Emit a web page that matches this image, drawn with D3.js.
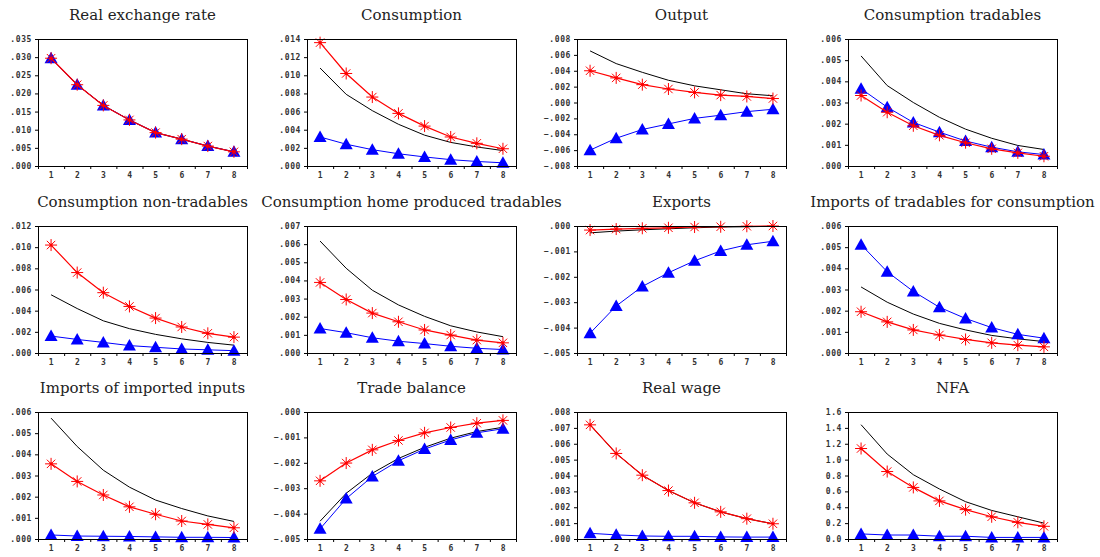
<!DOCTYPE html>
<html>
<head>
<meta charset="utf-8">
<script src="https://cdn.jsdelivr.net/npm/d3@7"></script>
<style>
  body { margin: 0; background: #fff; }
  svg { display: block; }
</style>
</head>
<body>
<div id="chart"></div>
<script>
// impulse responses, quarters 1..8
const periods = [1, 2, 3, 4, 5, 6, 7, 8]

const titles = [
  'Real exchange rate', 'Consumption', 'Output', 'Consumption tradables',
  'Consumption non-tradables', 'Consumption home produced tradables', 'Exports', 'Imports of tradables for consumption',
  'Imports of imported inputs', 'Trade balance', 'Real wage', 'NFA'
]

// y axis range and tick step per panel
const yMin = [0, 0, -0.008, 0, 0, 0, -0.005, 0, 0, -0.005, 0, 0]
const yMax = [0.035, 0.014, 0.008, 0.006, 0.012, 0.007, 0, 0.006, 0.006, 0, 0.008, 1.6]
const yStep = [0.005, 0.002, 0.002, 0.001, 0.002, 0.001, 0.001, 0.001, 0.001, 0.001, 0.001, 0.2]

// black line (no markers)
const blackSeries = [
  [0.0297, 0.0224, 0.0167, 0.0127, 0.0092, 0.0074, 0.0055, 0.0039],
  [0.0108, 0.0079, 0.0061, 0.0046, 0.0034, 0.0026, 0.0021, 0.0017],
  [0.0065, 0.0049, 0.0038, 0.0028, 0.0021, 0.0016, 0.0011, 0.00085],
  [0.0052, 0.0038, 0.0030, 0.0023, 0.00174, 0.00131, 0.00097, 0.00078],
  [0.0055, 0.0042, 0.00304, 0.0023, 0.00176, 0.00134, 0.0010, 0.00074],
  [0.00617, 0.00467, 0.00346, 0.00265, 0.00202, 0.0015, 0.00116, 0.0009],
  [-0.00027, -0.0002, -0.00015, -0.00011, -0.00007, -0.00004, -0.00003, -0.00001],
  [0.00312, 0.0024, 0.00184, 0.0014, 0.00109, 0.00083, 0.00067, 0.00054],
  [0.00571, 0.00437, 0.00325, 0.00245, 0.00184, 0.00144, 0.00109, 0.00083],
  [-0.0043, -0.0032, -0.00241, -0.00183, -0.00139, -0.00103, -0.00077, -0.0006],
  [0.00719, 0.00539, 0.00402, 0.00305, 0.00228, 0.00171, 0.00128, 0.00096],
  [1.44, 1.07, 0.81, 0.63, 0.47, 0.36, 0.28, 0.2]
]

// red line with asterisks
const redSeries = [
  [0.0297, 0.0224, 0.0167, 0.0127, 0.0092, 0.0074, 0.0055, 0.0039],
  [0.0136, 0.0102, 0.0076, 0.0058, 0.0044, 0.0032, 0.0025, 0.0019],
  [0.0040, 0.0031, 0.00225, 0.0017, 0.00127, 0.00093, 0.00076, 0.0005],
  [0.00333, 0.00254, 0.0019, 0.00145, 0.0011, 0.00081, 0.00062, 0.00046],
  [0.0102, 0.0076, 0.0057, 0.0044, 0.0033, 0.00246, 0.00186, 0.0015],
  [0.00389, 0.00295, 0.0022, 0.00172, 0.00127, 0.00099, 0.00071, 0.00056],
  [-0.00016, -0.00012, -0.00009, -0.00007, -0.00004, -0.00003, -0.00001, 0],
  [0.00195, 0.00147, 0.00109, 0.00085, 0.00064, 0.00048, 0.00037, 0.00029],
  [0.00355, 0.00272, 0.00208, 0.00152, 0.00117, 0.00085, 0.00069, 0.00053],
  [-0.00271, -0.00201, -0.00149, -0.00112, -0.00082, -0.00061, -0.00044, -0.00033],
  [0.00719, 0.00539, 0.00402, 0.00305, 0.00228, 0.00171, 0.00128, 0.00096],
  [1.14, 0.85, 0.65, 0.48, 0.37, 0.28, 0.21, 0.16]
]

// blue line with triangles
const blueSeries = [
  [0.0297, 0.0224, 0.0167, 0.0127, 0.0092, 0.0074, 0.0055, 0.0039],
  [0.0032, 0.0024, 0.0018, 0.00135, 0.001, 0.0007, 0.0005, 0.00035],
  [-0.0060, -0.0045, -0.0034, -0.0027, -0.0020, -0.0016, -0.00115, -0.00085],
  [0.00365, 0.00278, 0.00206, 0.0016, 0.00118, 0.00089, 0.00067, 0.00054],
  [0.0016, 0.00128, 0.001, 0.0007, 0.00054, 0.00038, 0.0003, 0.00022],
  [0.00135, 0.00112, 0.00084, 0.00065, 0.00052, 0.00037, 0.00026, 0.00019],
  [-0.00422, -0.00315, -0.00238, -0.00184, -0.00137, -0.00098, -0.00074, -0.0006],
  [0.00512, 0.00384, 0.00291, 0.00216, 0.00163, 0.0012, 0.00088, 0.0007],
  [0.00019, 0.00014, 0.00013, 0.00012, 0.0001, 0.00008, 0.00008, 0.00007],
  [-0.0046, -0.00341, -0.00254, -0.00192, -0.00146, -0.0011, -0.00082, -0.00066],
  [0.00036, 0.00026, 0.00019, 0.00017, 0.00017, 0.00013, 0.00012, 0.00012],
  [0.064, 0.05, 0.05, 0.035, 0.035, 0.02, 0.02, 0.02]
]

const width = 1100
const height = 557
const colLeft = [38, 307, 577, 848]
const rowTop = [39, 226, 412]
const frameW = 209
const frameH = 127

const svg = d3.select('#chart').append('svg')
  .attr('width', width)
  .attr('height', height)

// tick label like ".005" / "-.002"; NFA keeps the leading zero
function tickFormat (i) {
  if (yStep[i] >= 0.1) return d3.format('.1f')
  return d => d3.format('.3f')(d).replace('0.', '.')
}

const asterisk = 'M-6,0L6,0M0,-6L0,6M-4.2,-4.2L4.2,4.2M-4.2,4.2L4.2,-4.2'
const triangle = 'M0,-6.5L6.5,5L-6.5,5Z'

titles.forEach((title, i) => {
  const left = colLeft[i % 4]
  const top = rowTop[Math.floor(i / 4)]

  const x = d3.scaleLinear().domain([0.5, 8.5]).range([left, left + frameW])
  const y = d3.scaleLinear().domain([yMin[i], yMax[i]]).range([top + frameH, top])

  const g = svg.append('g')

  // title
  g.append('text')
    .attr('x', left + frameW / 2)
    .attr('y', top - 19)
    .attr('text-anchor', 'middle')
    .style('font-family', 'DejaVu Serif, serif')
    .style('font-size', '15px')
    .style('fill', '#222')
    .text(title)

  const nTicks = Math.round((yMax[i] - yMin[i]) / yStep[i])
  const yTicks = d3.range(nTicks + 1).map(k => +(yMin[i] + k * yStep[i]).toFixed(4))

  // y axis
  const yAxis = g.append('g')
    .attr('transform', `translate(${left},0)`)
    .call(d3.axisLeft(y).tickValues(yTicks).tickSize(3).tickSizeOuter(0).tickFormat(tickFormat(i)))
  yAxis.select('.domain').remove()

  // x axis: ticks between periods, labels under periods
  const xAxis = g.append('g')
    .attr('transform', `translate(0,${top + frameH})`)
    .call(d3.axisBottom(x).tickValues(d3.range(0.5, 9, 1)).tickSize(3).tickFormat(''))
  xAxis.select('.domain').remove()

  g.append('g')
    .attr('transform', `translate(0,${top + frameH})`)
    .call(d3.axisBottom(x).tickValues(periods).tickSize(0).tickPadding(6).tickFormat(d3.format('d')))
    .select('.domain').remove()

  g.selectAll('.tick text')
    .style('font-family', 'DejaVu Sans Mono, monospace')
    .style('font-size', '8px')
    .style('font-weight', 'bold')
    .style('letter-spacing', '0.6px')
    .style('fill', '#333')
  g.selectAll('.tick line').attr('stroke', '#000')

  const line = d3.line().x((d, k) => x(periods[k])).y(d => y(d))

  // black
  g.append('path')
    .datum(blackSeries[i])
    .attr('d', line)
    .attr('fill', 'none')
    .attr('stroke', '#000')
    .attr('stroke-width', 1)

  // blue with triangles
  g.append('path')
    .datum(blueSeries[i])
    .attr('d', line)
    .attr('fill', 'none')
    .attr('stroke', '#0000ff')
    .attr('stroke-width', 1)
  g.selectAll('.tri')
    .data(blueSeries[i])
    .enter()
    .append('path')
    .attr('class', 'tri')
    .attr('transform', (d, k) => `translate(${x(periods[k])},${y(d)})`)
    .attr('d', triangle)
    .attr('fill', '#0000ff')

  // red with asterisks
  g.append('path')
    .datum(redSeries[i])
    .attr('d', line)
    .attr('fill', 'none')
    .attr('stroke', '#ff0000')
    .attr('stroke-width', 1.2)
  const stars = g.selectAll('.star')
    .data(redSeries[i])
    .enter()
    .append('g')
    .attr('class', 'star')
    .attr('transform', (d, k) => `translate(${x(periods[k])},${y(d)})`)
  stars.append('path')
    .attr('d', asterisk)
    .attr('stroke', '#ff0000')
    .attr('stroke-width', 1)
  stars.append('circle')
    .attr('r', 1.6)
    .attr('fill', '#ff0000')

  // frame
  g.append('rect')
    .attr('x', left + 0.5)
    .attr('y', top + 0.5)
    .attr('width', frameW)
    .attr('height', frameH)
    .attr('fill', 'none')
    .attr('stroke', '#000')
    .attr('stroke-width', 1)
})
</script>
</body>
</html>
